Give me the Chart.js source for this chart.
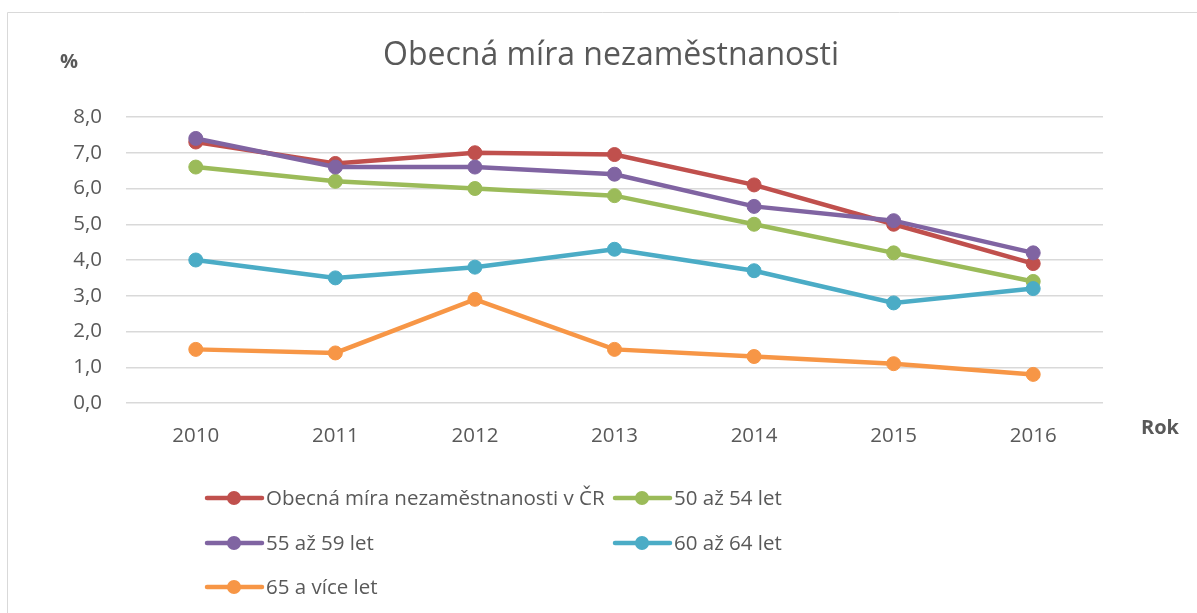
<!DOCTYPE html>
<html lang="cs">
<head>
   <meta charset="UTF-8">
   <title>Obecná míra nezaměstnanosti</title>
   <script src="https://cdn.jsdelivr.net/npm/chart.js@4"></script>
   <style>
      html, body { margin: 0; padding: 0; background: #fff; }
      #wrap { position: relative; width: 1197px; height: 613px; overflow: hidden; }
   </style>
</head>
<body>
   <div id="wrap">
      <canvas id="myChart" width="1197" height="613"></canvas>
   </div>
   <script>
      const roky = ['2010', '2011', '2012', '2013', '2014', '2015', '2016'];
      const obecna = [7.3, 6.7, 7.0, 6.95, 6.1, 5.0, 3.9];
      const vek50 = [6.6, 6.2, 6.0, 5.8, 5.0, 4.2, 3.4];
      const vek55 = [7.4, 6.6, 6.6, 6.4, 5.5, 5.1, 4.2];
      const vek60 = [4.0, 3.5, 3.8, 4.3, 3.7, 2.8, 3.2];
      const vek65 = [1.5, 1.4, 2.9, 1.5, 1.3, 1.1, 0.8];
      const nazvy = ['Obecná míra nezaměstnanosti v ČR', '50 až 54 let', '55 až 59 let', '60 až 64 let', '65 a více let'];
      const barvy = ['#C0504D', '#9BBB59', '#8064A2', '#4BACC6', '#F79646'];

      const FONT = '"Open Sans", sans-serif';
      const SEDA = '#595959';

      const rada = (i, data) => ({
         label: nazvy[i],
         data: data,
         borderColor: barvy[i],
         backgroundColor: barvy[i],
         pointBackgroundColor: barvy[i],
         pointBorderColor: barvy[i],
         borderWidth: 4.5,
         pointRadius: 7,
         pointBorderWidth: 1,
         tension: 0,
         order: 5 - i
      });

      // popisky, rámeček a legenda kreslené ručně (rozložení jako v Excelu)
      const doplnky = {
         id: 'doplnky',
         afterDraw(chart) {
            const ctx = chart.ctx;
            ctx.save();
            ctx.strokeStyle = '#d9d9d9';
            ctx.lineWidth = 1;
            ctx.beginPath();
            ctx.moveTo(7.5, 613);
            ctx.lineTo(7.5, 12.5);
            ctx.lineTo(1197, 12.5);
            ctx.stroke();

            ctx.fillStyle = SEDA;
            ctx.textAlign = 'center';
            ctx.textBaseline = 'alphabetic';
            ctx.font = '32px ' + FONT;
            ctx.fillText('Obecná míra nezaměstnanosti', 611, 65);

            ctx.font = 'bold 20px ' + FONT;
            ctx.textBaseline = 'middle';
            ctx.fillText('%', 69, 62);
            ctx.fillText('Rok', 1160, 428);

            const polozky = [
               [0, 207, 498], [1, 615, 498],
               [2, 207, 543], [3, 615, 543],
               [4, 207, 587]
            ];
            ctx.textAlign = 'left';
            ctx.font = '20.5px ' + FONT;
            polozky.forEach(([i, x, y]) => {
               ctx.strokeStyle = barvy[i];
               ctx.fillStyle = barvy[i];
               ctx.lineWidth = 4.5;
               ctx.lineCap = 'round';
               ctx.beginPath();
               ctx.moveTo(x, y);
               ctx.lineTo(x + 55, y);
               ctx.stroke();
               ctx.beginPath();
               ctx.arc(x + 27, y, 7, 0, Math.PI * 2);
               ctx.fill();
               ctx.fillStyle = SEDA;
               ctx.fillText(nazvy[i], x + 59, y + 1);
            });
            ctx.restore();
         }
      };

      const config = {
         type: 'line',
         data: {
            labels: roky,
            datasets: [
               rada(0, obecna),
               rada(1, vek50),
               rada(2, vek55),
               rada(3, vek60),
               rada(4, vek65)
            ]
         },
         options: {
            responsive: false,
            animation: false,
            devicePixelRatio: 1,
            layout: { padding: { top: 117, right: 94, bottom: 0, left: 0 } },
            plugins: {
               legend: { display: false },
               title: { display: false },
               tooltip: { enabled: false }
            },
            scales: {
               x: {
                  offset: true,
                  grid: { display: false, drawTicks: false },
                  border: { display: false },
                  ticks: { color: SEDA, font: { family: FONT, size: 20.5 }, padding: 21 },
                  afterFit: (s) => { s.height = 210; }
               },
               y: {
                  min: 0,
                  max: 8,
                  grid: { color: '#d9d9d9', lineWidth: 1.5, drawTicks: false },
                  border: { display: false },
                  ticks: {
                     stepSize: 1,
                     padding: 24,
                     color: SEDA,
                     font: { family: FONT, size: 20.5 },
                     callback: (v) => v.toFixed(1).replace('.', ',')
                  },
                  afterFit: (s) => { s.width = 126; }
               }
            }
         },
         plugins: [doplnky]
      };

      const myChart = new Chart(document.getElementById('myChart'), config);
   </script>
</body>
</html>
